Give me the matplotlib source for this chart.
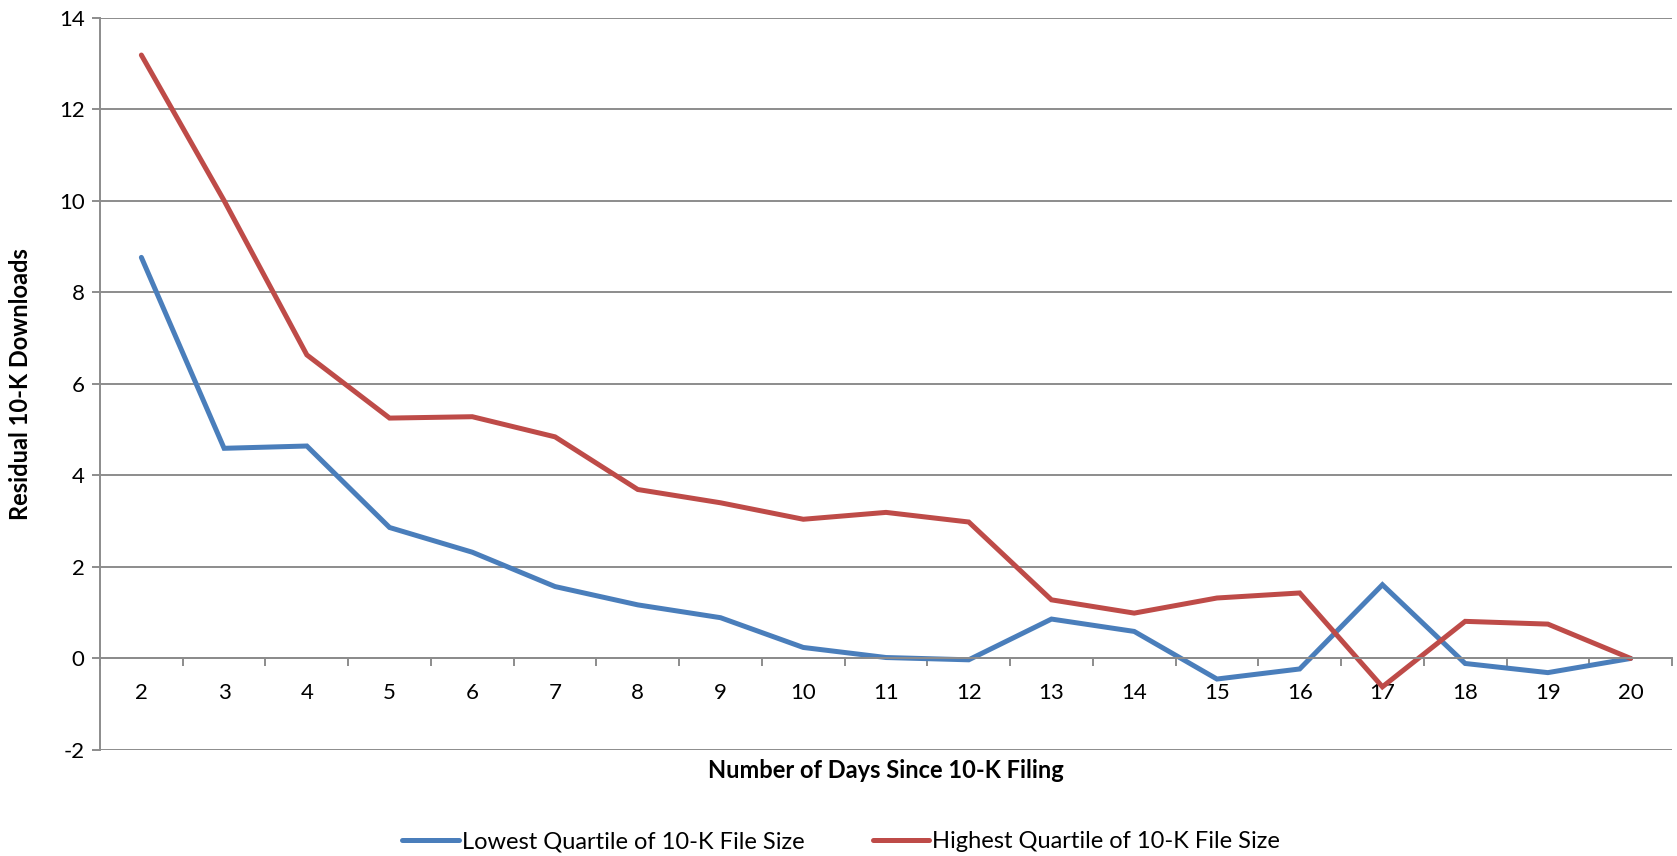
import matplotlib
matplotlib.use("Agg")
import matplotlib.pyplot as plt
from matplotlib.ticker import FixedLocator

plt.rcParams["font.family"] = ["Lato", "DejaVu Sans"]

# days since filing (category axis) and the two residual series
days = [2, 3, 4, 5, 6, 7, 8, 9, 10, 11, 12, 13, 14, 15, 16, 17, 18, 19, 20]
lowest_q = [8.76, 4.59, 4.64, 2.86, 2.32, 1.57, 1.17, 0.89, 0.24, 0.02,
            -0.03, 0.86, 0.59, -0.45, -0.23, 1.61, -0.11, -0.31, 0.0]
highest_q = [13.18, 10.0, 6.63, 5.25, 5.28, 4.84, 3.69, 3.40, 3.04, 3.19,
             2.98, 1.28, 0.99, 1.32, 1.43, -0.62, 0.81, 0.75, 0.0]
yticks = [-2, 0, 2, 4, 6, 8, 10, 12, 14]

BLUE = "#4a7ebb"
RED = "#be4b48"
GRID = "#8c8c8c"

fig = plt.figure(figsize=(16.77, 8.56), dpi=100)
ax = fig.add_axes([100 / 1677, 1 - 750 / 856, 1572 / 1677, 732.5 / 856])

pos = list(range(len(days)))
ax.plot(pos, lowest_q, color=BLUE, lw=3.6, solid_capstyle="round",
        solid_joinstyle="miter", label="Lowest Quartile of 10-K File Size")
ax.plot(pos, highest_q, color=RED, lw=3.6, solid_capstyle="round",
        solid_joinstyle="miter", label="Highest Quartile of 10-K File Size")

ax.set_xlim(-0.5, len(days) - 0.5)
ax.set_ylim(-2, 14)

# horizontal grid
ax.set_yticks(yticks)
ax.set_yticklabels([str(v) for v in yticks])
ax.yaxis.grid(True, color=GRID, lw=1.4)
ax.set_axisbelow(True)

# category axis sits on y = 0, tick marks between categories
ax.spines["bottom"].set_position(("data", 0))
ax.set_xticks(pos)
ax.set_xticklabels([str(d) for d in days])
ax.xaxis.set_minor_locator(FixedLocator([p - 0.5 for p in pos] + [len(days) - 0.5]))
ax.tick_params(axis="x", which="major", length=0, pad=18, labelsize=16)
ax.tick_params(axis="x", which="minor", length=6, width=1.4, color=GRID, direction="out")
ax.tick_params(axis="y", length=6, width=1.4, color=GRID, pad=5, labelsize=16)

for side in ("top", "right"):
    ax.spines[side].set_visible(False)
for side in ("left", "bottom"):
    ax.spines[side].set_color(GRID)
    ax.spines[side].set_linewidth(1.4)

fig.text(21 / 1677, 1 - 384 / 856, "Residual 10-K Downloads", rotation=90,
         ha="center", va="center", fontsize=17, fontweight="bold")
fig.text(886 / 1677, 1 - 770 / 856, "Number of Days Since 10-K Filing",
         ha="center", va="center", fontsize=17, fontweight="bold")

fig.legend(loc="center", bbox_to_anchor=(841 / 1677, 1 - 842 / 856), ncol=2,
           frameon=False, fontsize=17, handlelength=2.4, handletextpad=0.1,
           columnspacing=2.9)

fig.savefig("out.png", dpi=100)
